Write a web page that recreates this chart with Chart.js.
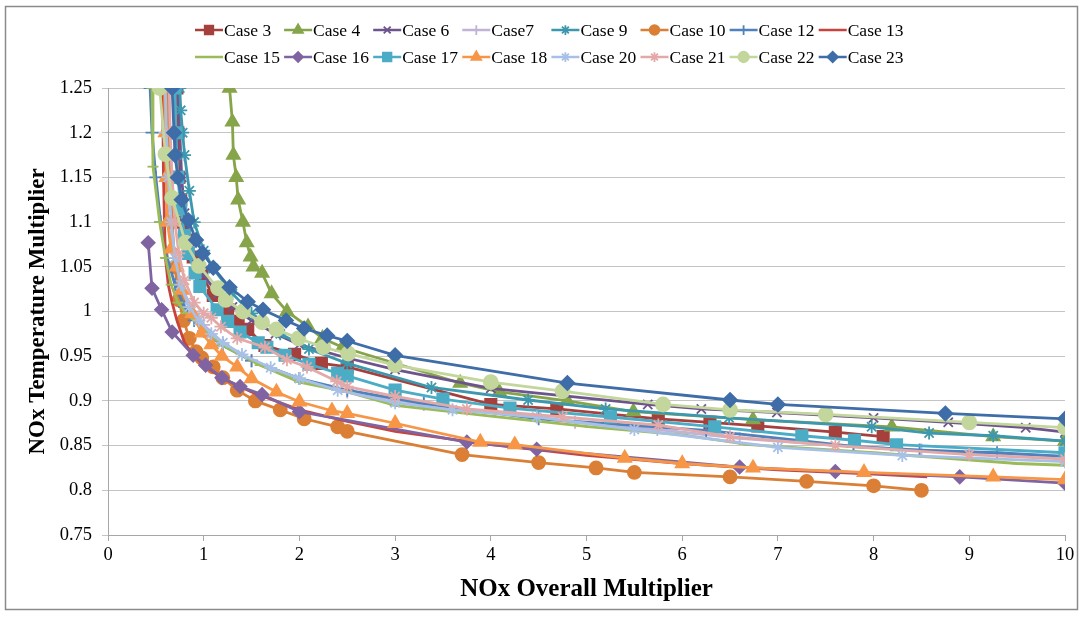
<!DOCTYPE html>
<html>
<head>
<meta charset="utf-8">
<title>NOx Temperature Multiplier</title>
<script src="https://cdn.jsdelivr.net/npm/chart.js@4.4.0/dist/chart.umd.min.js"></script>
<style>
  html, body { margin: 0; padding: 0; background: #fff; }
  canvas { display: block; }
</style>
</head>
<body>
<canvas id="multiplicadores" width="1084" height="617"></canvas>
<script>
// ticks de los ejes
const xTicks = [0, 1, 2, 3, 4, 5, 6, 7, 8, 9, 10];
const yTicks = [0.75, 0.8, 0.85, 0.9, 0.95, 1, 1.05, 1.1, 1.15, 1.2, 1.25];

// cada caso: NOx Overall Multiplier (x) / NOx Temperature Multiplier (y)
const case3X = [0.72, 0.73, 0.74, 0.76, 0.79, 0.83, 0.89, 0.98, 1.1, 1.25, 1.36, 1.46, 1.64, 1.95, 2.23, 2.5, 4.0, 4.69, 5.75, 6.29, 6.79, 7.6, 8.1];
const case3Y = [1.25, 1.2, 1.15, 1.125, 1.1, 1.08, 1.061, 1.041, 1.018, 1.002, 0.989, 0.98, 0.962, 0.952, 0.942, 0.938, 0.896, 0.891, 0.88, 0.876, 0.872, 0.865, 0.86];

const case4X = [1.27, 1.3, 1.31, 1.34, 1.36, 1.41, 1.45, 1.49, 1.52, 1.61, 1.71, 1.87, 2.09, 2.24, 2.45, 3.68, 4.09, 4.8, 5.49, 6.74, 8.19, 9.25, 10];
const case4Y = [1.25, 1.212, 1.175, 1.15, 1.125, 1.1, 1.077, 1.061, 1.05, 1.043, 1.02, 1.0, 0.983, 0.97, 0.96, 0.92, 0.91, 0.9, 0.888, 0.879, 0.871, 0.86, 0.855];

const case6X = [0.73, 0.75, 0.77, 0.8, 0.85, 0.9, 1.0, 1.15, 1.3, 1.5, 1.75, 2.0, 2.5, 3.0, 4.0, 5.64, 6.2, 6.99, 8.0, 8.78, 9.59, 10];
const case6Y = [1.25, 1.2, 1.15, 1.11, 1.08, 1.06, 1.04, 1.02, 1.005, 0.99, 0.975, 0.963, 0.948, 0.935, 0.914, 0.896, 0.891, 0.887, 0.881, 0.876, 0.87, 0.865];

const case7X = [0.57, 0.58, 0.6, 0.63, 0.67, 0.72, 0.8, 0.9, 1.0, 1.2, 1.5, 2.0, 2.5, 3.3, 4.88, 5.74, 6.6, 7.79, 8.5, 10];
const case7Y = [1.25, 1.2, 1.15, 1.1, 1.07, 1.045, 1.02, 1.0, 0.985, 0.965, 0.945, 0.925, 0.91, 0.896, 0.876, 0.868, 0.858, 0.849, 0.845, 0.838];

const case9X = [0.75, 0.76, 0.78, 0.8, 0.85, 0.9, 1.0, 1.1, 1.3, 1.5, 1.8, 2.1, 2.5, 3.38, 4.39, 5.2, 6.49, 7.98, 8.58, 9.25, 10];
const case9Y = [1.25, 1.225, 1.2, 1.175, 1.135, 1.1, 1.068, 1.048, 1.02, 0.998, 0.975, 0.958, 0.942, 0.915, 0.901, 0.891, 0.881, 0.871, 0.864, 0.861, 0.855];

const case10X = [0.62, 0.63, 0.65, 0.67, 0.7, 0.74, 0.79, 0.85, 0.92, 0.98, 1.1, 1.2, 1.35, 1.54, 1.8, 2.05, 2.4, 2.5, 3.7, 4.5, 5.1, 5.5, 6.5, 7.3, 8.0, 8.5];
const case10Y = [1.25, 1.2, 1.15, 1.1, 1.05, 1.013, 0.99, 0.97, 0.955, 0.948, 0.938, 0.926, 0.912, 0.9, 0.89, 0.88, 0.871, 0.866, 0.84, 0.831, 0.825, 0.82, 0.815, 0.81, 0.805, 0.8];

const case12X = [0.44, 0.46, 0.5, 0.55, 0.62, 0.7, 0.8, 0.9, 1.0, 1.2, 1.5, 2.0, 2.5, 3.3, 4.5, 6.25, 7.79, 8.48, 9.29, 10];
const case12Y = [1.25, 1.2, 1.15, 1.1, 1.06, 1.03, 1.005, 0.99, 0.978, 0.962, 0.945, 0.925, 0.912, 0.897, 0.88, 0.867, 0.849, 0.845, 0.842, 0.838];

const case13X = [0.57, 0.58, 0.59, 0.6, 0.63, 0.67, 0.72, 0.8, 0.9, 1.0, 1.2, 1.5, 2.0, 2.5, 3.0, 4.0, 5.0, 6.0, 7.0, 8.0, 8.56];
const case13Y = [1.25, 1.15, 1.1, 1.06, 1.03, 1.01, 0.99, 0.965, 0.95, 0.94, 0.925, 0.91, 0.89, 0.877, 0.866, 0.851, 0.839, 0.83, 0.823, 0.818, 0.815];

const case15X = [0.46, 0.47, 0.54, 0.6, 0.66, 0.73, 0.82, 1.01, 1.2, 1.59, 2.0, 2.5, 3.0, 4.0, 5.04, 6.0, 6.7, 8.0, 9.5, 10];
const case15Y = [1.25, 1.162, 1.1, 1.06, 1.03, 1.01, 0.998, 0.979, 0.962, 0.94, 0.921, 0.91, 0.895, 0.883, 0.871, 0.862, 0.851, 0.842, 0.83, 0.828];

const case16X = [0.42, 0.46, 0.56, 0.67, 0.89, 1.02, 1.19, 1.38, 1.61, 2.0, 3.75, 4.48, 6.6, 7.6, 8.9, 10];
const case16Y = [1.077, 1.026, 1.002, 0.977, 0.951, 0.94, 0.926, 0.916, 0.907, 0.888, 0.854, 0.846, 0.826, 0.821, 0.815, 0.808];

const case17X = [0.7, 0.71, 0.73, 0.76, 0.8, 0.84, 0.91, 0.96, 1.14, 1.25, 1.38, 1.57, 1.66, 1.85, 2.1, 2.4, 2.5, 3.0, 3.5, 4.2, 5.25, 6.34, 7.25, 7.8, 8.24, 10];
const case17Y = [1.25, 1.2, 1.15, 1.115, 1.085, 1.065, 1.043, 1.028, 1.002, 0.989, 0.977, 0.965, 0.96, 0.951, 0.941, 0.931, 0.928, 0.912, 0.902, 0.892, 0.882, 0.871, 0.861, 0.856, 0.851, 0.842];

const case18X = [0.59, 0.6, 0.61, 0.62, 0.66, 0.72, 0.77, 0.88, 0.98, 1.08, 1.19, 1.35, 1.5, 1.76, 2.0, 2.34, 2.5, 3.0, 3.89, 4.25, 5.4, 6.0, 6.74, 7.9, 9.25, 10];
const case18Y = [1.25, 1.2, 1.15, 1.1, 1.07, 1.05, 1.024, 0.998, 0.976, 0.963, 0.95, 0.938, 0.925, 0.91, 0.899, 0.889, 0.886, 0.875, 0.854, 0.851, 0.836, 0.83, 0.825, 0.82, 0.815, 0.812];

const case20X = [0.6, 0.61, 0.63, 0.66, 0.7, 0.76, 0.85, 0.95, 1.08, 1.2, 1.4, 1.7, 2.0, 2.4, 3.0, 3.6, 4.48, 5.5, 7.0, 8.3, 10];
const case20Y = [1.25, 1.2, 1.15, 1.1, 1.06, 1.03, 1.005, 0.99, 0.975, 0.965, 0.952, 0.937, 0.925, 0.912, 0.898, 0.89, 0.882, 0.868, 0.848, 0.839, 0.832];

const case21X = [0.64, 0.65, 0.67, 0.7, 0.74, 0.8, 0.9, 1.0, 1.08, 1.18, 1.35, 1.64, 1.87, 2.08, 2.39, 2.5, 3.0, 3.75, 4.75, 5.75, 6.5, 7.6, 9.0, 10];
const case21Y = [1.25, 1.2, 1.15, 1.1, 1.065, 1.035, 1.01, 0.998, 0.993, 0.983, 0.97, 0.96, 0.946, 0.938, 0.922, 0.916, 0.905, 0.891, 0.882, 0.873, 0.86, 0.85, 0.84, 0.835];

const case22X = [0.54, 0.6, 0.67, 0.81, 0.95, 1.15, 1.23, 1.41, 1.61, 1.76, 1.99, 2.25, 2.51, 3.0, 4.0, 4.75, 5.8, 6.5, 7.5, 9.0, 10];
const case22Y = [1.25, 1.176, 1.127, 1.077, 1.051, 1.026, 1.013, 1.0, 0.988, 0.98, 0.97, 0.96, 0.953, 0.94, 0.921, 0.911, 0.896, 0.89, 0.885, 0.876, 0.87];

const case23X = [0.67, 0.69, 0.7, 0.73, 0.77, 0.84, 0.92, 0.99, 1.1, 1.27, 1.46, 1.62, 1.86, 2.05, 2.29, 2.5, 3.0, 4.8, 6.5, 7.0, 8.75, 10];
const case23Y = [1.25, 1.2, 1.175, 1.15, 1.125, 1.102, 1.08, 1.065, 1.049, 1.027, 1.011, 1.002, 0.99, 0.981, 0.973, 0.967, 0.951, 0.92, 0.901, 0.896, 0.886, 0.88];


function puntos(xs, ys) {
    return xs.map((x, i) => ({ x: x, y: ys[i] }));
}

function serie(label, xs, ys, color, estilo, radio, orden) {
    return {
        label: label,
        data: puntos(xs, ys),
        borderColor: color,
        backgroundColor: color,
        borderWidth: 2.8,
        pointStyle: estilo,
        pointRadius: radio,
        pointHoverRadius: radio,
        pointBorderWidth: 1.8,
        pointBackgroundColor: color,
        pointBorderColor: color,
        tension: 0,
        fill: false,
        order: orden
    };
}

const datasets = [
    serie('Case 3',  case3X,  case3Y,  '#A5403D', 'rect', 8, 15),
    serie('Case 4',  case4X,  case4Y,  '#86A44A', 'triangle', 7.5, 14),
    serie('Case 6',  case6X,  case6Y,  '#6E548D', 'crossRot', 6.5, 13),
    serie('Case7',   case7X,  case7Y,  '#C0B3D6', 'cross', 6.5, 12),
    serie('Case 9',  case9X,  case9Y,  '#3C98AE', 'star', 6.5, 11),
    serie('Case 10', case10X, case10Y, '#DA7F35', 'circle', 6.5, 10),
    serie('Case 12', case12X, case12Y, '#4F81BD', 'cross', 6.5, 9),
    serie('Case 13', case13X, case13Y, '#C8423E', 'circle', 0, 8),
    serie('Case 15', case15X, case15Y, '#9BBB59', 'line', 5.5, 7),
    serie('Case 16', case16X, case16Y, '#8064A2', 'rectRot', 6.5, 6),
    serie('Case 17', case17X, case17Y, '#4BACC6', 'rect', 8, 5),
    serie('Case 18', case18X, case18Y, '#F79646', 'triangle', 7.5, 4),
    serie('Case 20', case20X, case20Y, '#A7C0E6', 'star', 6.5, 3),
    serie('Case 21', case21X, case21Y, '#E2A9A8', 'star', 6.5, 2),
    serie('Case 22', case22X, case22Y, '#C3D69B', 'circle', 7, 1),
    serie('Case 23', case23X, case23Y, '#3E6DA8', 'rectRot', 7, 0)
];

// fondo blanco y marco exterior
const marco = {
    id: 'marco',
    beforeDraw(chart) {
        const ctx = chart.ctx;
        ctx.save();
        ctx.fillStyle = '#fff';
        ctx.fillRect(0, 0, chart.width, chart.height);
        ctx.strokeStyle = '#8a8a8a';
        ctx.lineWidth = 1.5;
        ctx.strokeRect(5.5, 6.5, 1072, 603);
        ctx.restore();
    }
};

// leyenda en dos filas con columnas fijas (linea + marcador)
const leyenda = {
    id: 'leyenda',
    afterDraw(chart) {
        const ctx = chart.ctx;
        chart.data.datasets.forEach((ds, i) => {
            const x0 = 195 + (i % 8) * 89.1;
            const y0 = 30 + Math.floor(i / 8) * 27;
            ctx.save();
            ctx.strokeStyle = ds.borderColor;
            ctx.lineWidth = 2.5;
            ctx.beginPath();
            ctx.moveTo(x0, y0);
            ctx.lineTo(x0 + 28, y0);
            ctx.stroke();
            if (ds.pointRadius > 0) {
                ctx.fillStyle = ds.pointBackgroundColor;
                ctx.strokeStyle = ds.pointBorderColor;
                ctx.lineWidth = ds.pointBorderWidth;
                Chart.helpers.drawPoint(ctx, {
                    pointStyle: ds.pointStyle,
                    radius: ds.pointRadius * 0.75,
                    rotation: 0,
                    borderWidth: ds.pointBorderWidth
                }, x0 + 14, y0);
            }
            ctx.fillStyle = '#000';
            ctx.font = '17.5px "Liberation Serif"';
            ctx.textBaseline = 'middle';
            ctx.textAlign = 'left';
            ctx.fillText(ds.label, x0 + 29, y0 + 1);
            ctx.restore();
        });
    }
};

const multiplicadores = new Chart(
    document.getElementById('multiplicadores'), {
    type: 'line',
    data: { datasets: datasets },
    plugins: [marco, leyenda],
    options: {
        responsive: false,
        animation: false,
        devicePixelRatio: 1,
        layout: { padding: { top: 88, right: 19, left: 0, bottom: 0 } },
        plugins: {
            legend: { display: false },
            tooltip: { enabled: false }
        },
        scales: {
            x: {
                type: 'linear',
                min: 0,
                max: 10,
                afterBuildTicks: s => { s.ticks = xTicks.map(v => ({ value: v })); },
                afterFit: s => { s.height = 82; },
                ticks: {
                    color: '#000',
                    padding: 3,
                    maxRotation: 0,
                    font: { family: 'Liberation Serif', size: 18.5 },
                    callback: v => String(v)
                },
                grid: { drawOnChartArea: false, drawTicks: true, tickLength: 6, color: '#a6a6a6' },
                border: { display: true, color: '#a6a6a6' },
                title: {
                    display: true,
                    text: 'NOx Overall Multiplier',
                    color: '#000',
                    font: { family: 'Liberation Serif', size: 25, weight: 'bold' },
                    padding: { top: 0, bottom: 12 }
                }
            },
            y: {
                min: 0.75,
                max: 1.25,
                afterBuildTicks: s => { s.ticks = yTicks.map(v => ({ value: v })); },
                afterFit: s => { s.width = 108; },
                ticks: {
                    color: '#000',
                    padding: 10,
                    font: { family: 'Liberation Serif', size: 18.5 },
                    callback: v => String(v)
                },
                grid: { color: '#c4c4c4', lineWidth: 1, tickLength: 6 },
                border: { display: true, color: '#a6a6a6' },
                title: {
                    display: true,
                    text: 'NOx Temperature Multiplier',
                    color: '#000',
                    font: { family: 'Liberation Serif', size: 23, weight: 'bold' },
                    padding: { top: 24, bottom: 0 }
                }
            }
        }
    }
});
</script>
</body>
</html>
